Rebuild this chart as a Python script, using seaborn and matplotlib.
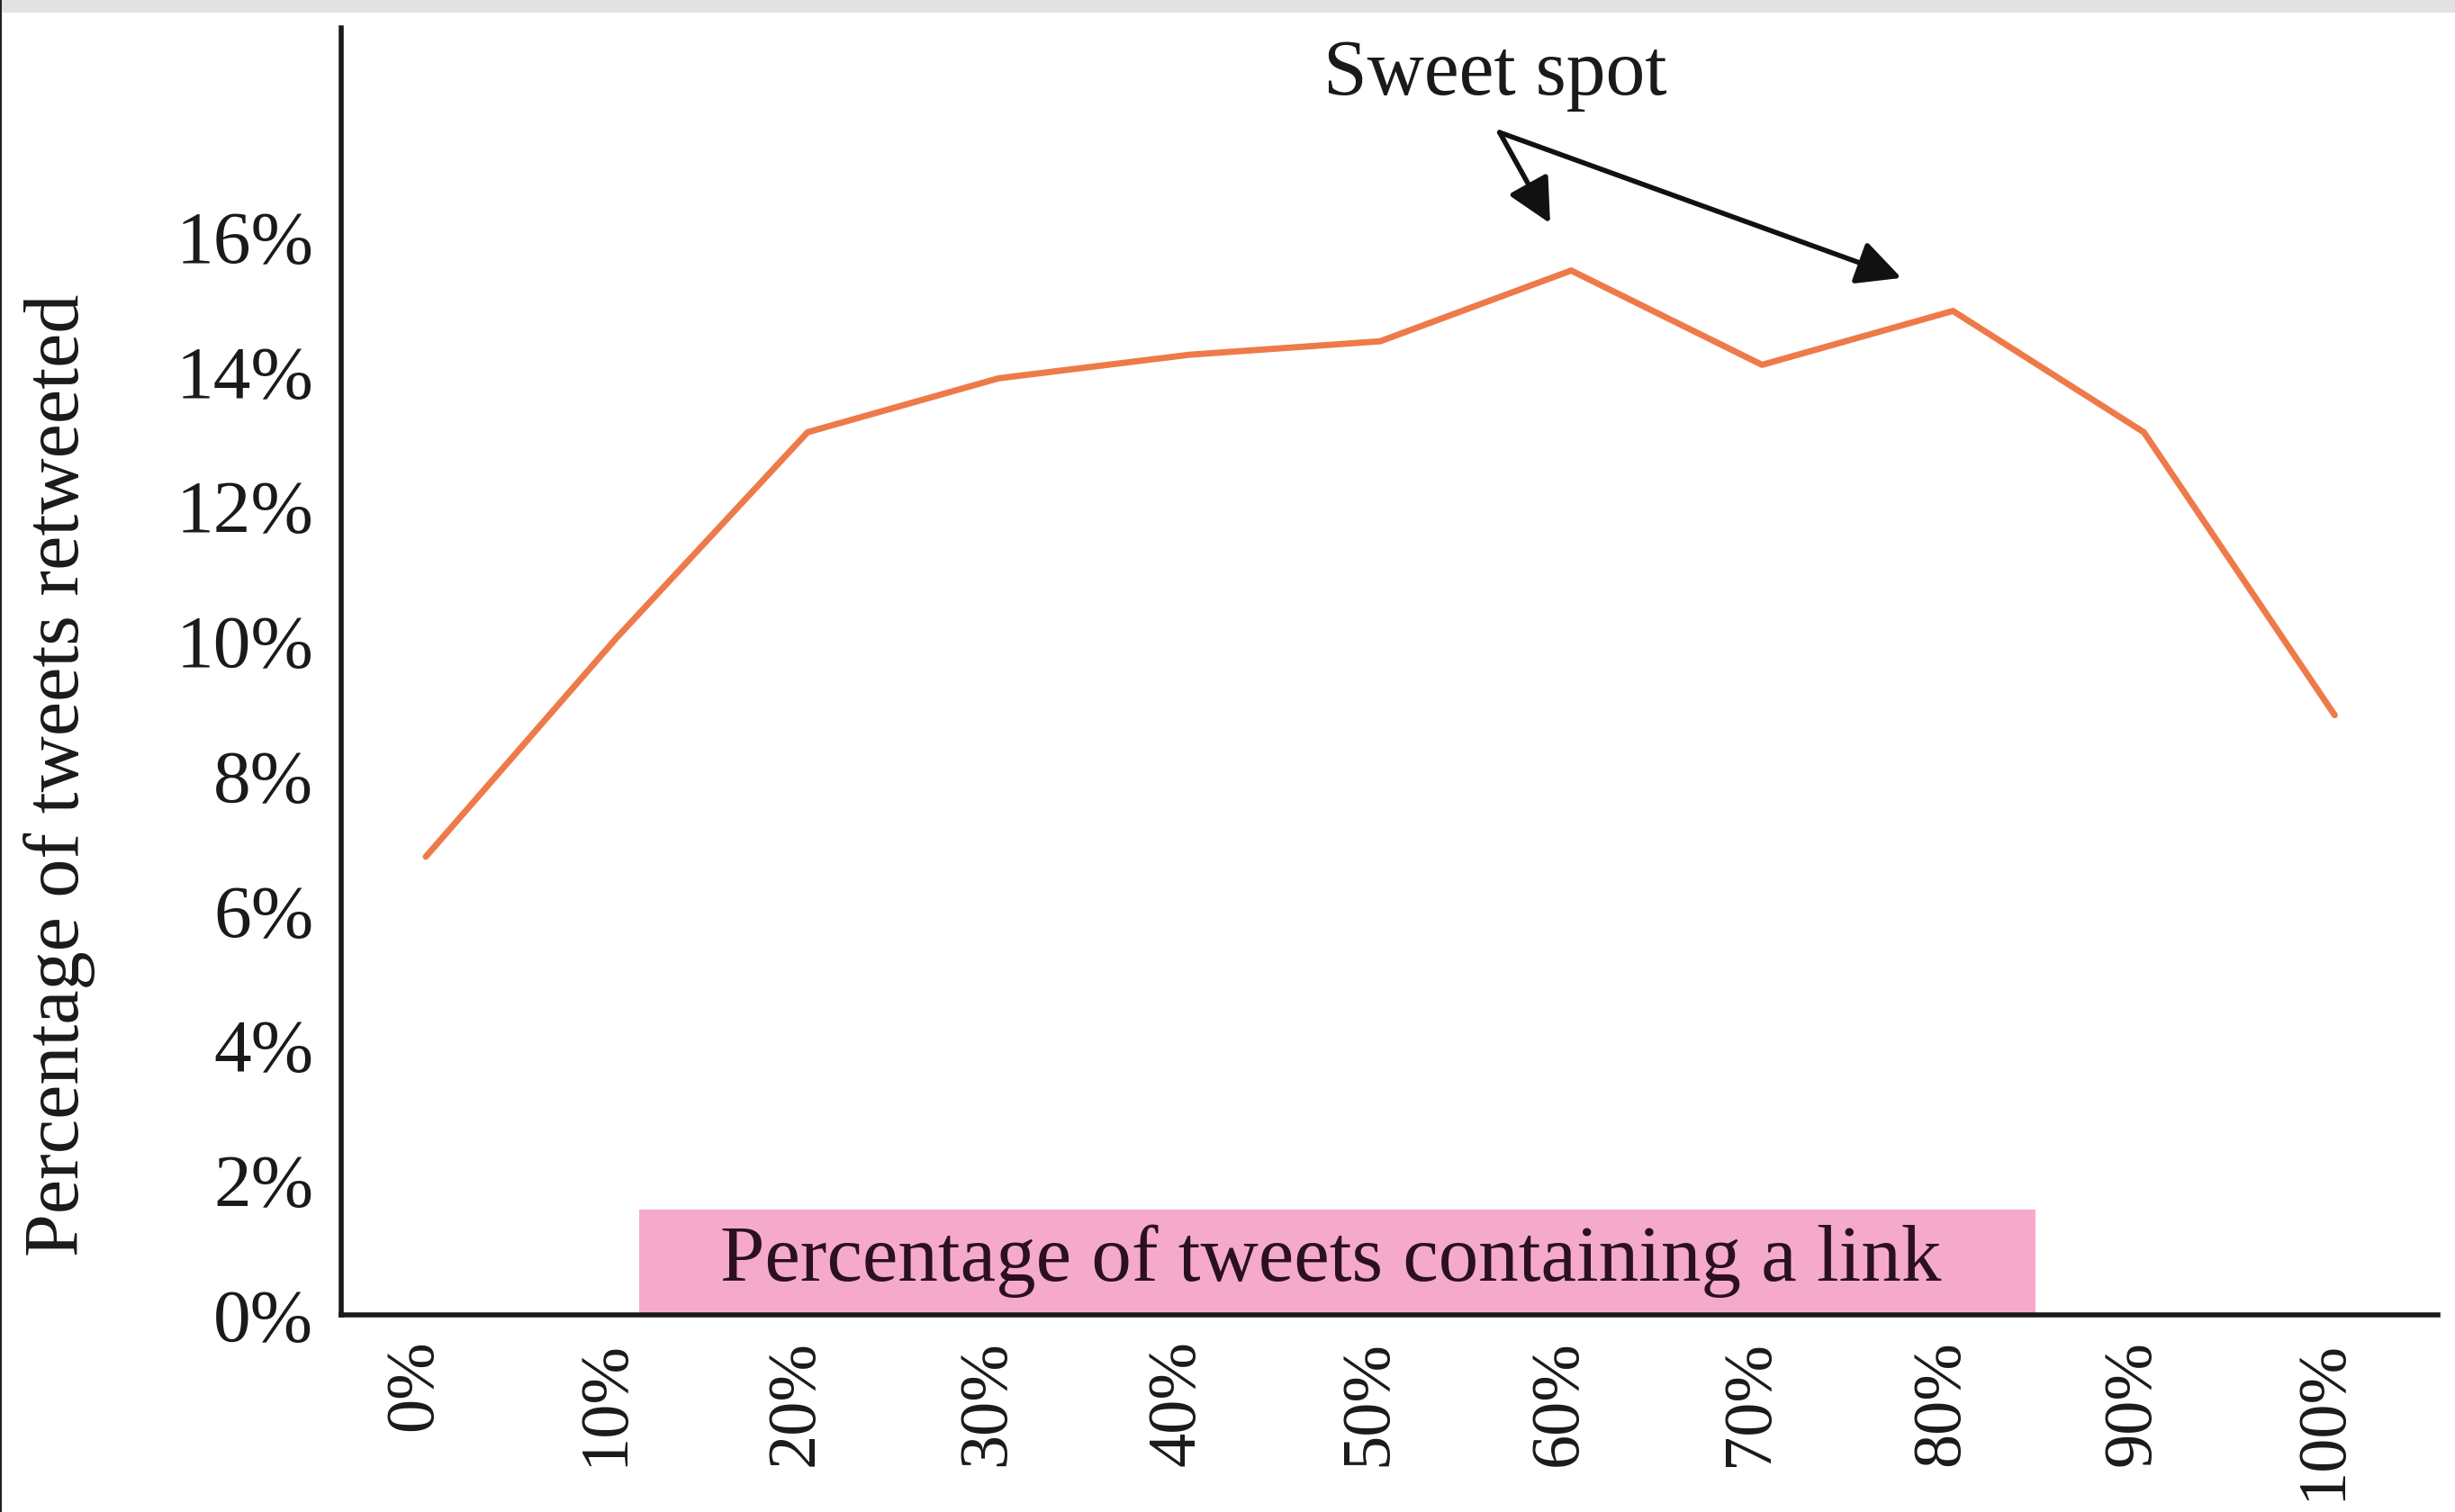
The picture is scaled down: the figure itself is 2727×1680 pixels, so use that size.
import matplotlib
matplotlib.use("Agg")
import matplotlib.pyplot as plt
from matplotlib.patches import Rectangle
import seaborn as sns
import pandas as pd

# ---- data ----
link_pct = [0, 10, 20, 30, 40, 50, 60, 70, 80, 90, 100]
retweet_pct = [6.8, 10.05, 13.1, 13.9, 14.25, 14.45, 15.5, 14.1, 14.9, 13.1, 8.9]
x_tick_labels = ["0%", "10%", "20%", "30%", "40%", "50%", "60%", "70%", "80%", "90%", "100%"]
y_ticks = [0, 2, 4, 6, 8, 10, 12, 14, 16]
y_tick_labels = ["0%", "2%", "4%", "6%", "8%", "10%", "12%", "14%", "16%"]
x_title = "Percentage of tweets containing a link"
y_title = "Percentage of tweets retweeted"
note = "Sweet spot"

df = pd.DataFrame({"link": link_pct, "retweet": retweet_pct})

sns.set_style("white")
plt.rcParams["font.family"] = ["Liberation Serif", "DejaVu Serif"]

fig = plt.figure(figsize=(27.27, 16.8), dpi=100)
ax = fig.add_axes([0.139, 0.1304, 0.854, 0.8511])

sns.lineplot(data=df, x="link", y="retweet", ax=ax, color="#EE7A4A", linewidth=5)

ax.set_xlim(-4.43, 105.4)
ax.set_ylim(0, 19.1)
ax.set_xticks([v - 0.6 for v in link_pct])
ax.set_xticklabels(x_tick_labels, rotation=90, fontsize=55)
ax.set_yticks(y_ticks)
ax.set_yticklabels(y_tick_labels, fontsize=60)
ax.tick_params(axis="both", length=0, colors="#1a1a1a")
ax.tick_params(axis="y", pad=22)
ax.tick_params(axis="x", pad=20)
ax.set_xlabel("")
ax.set_ylabel("")
fig.text(66 / 2727, 1 - 861 / 1680, y_title, rotation=90, ha="center", va="center",
         fontsize=62, color="#1a1a1a")

for s in ["top", "right"]:
    ax.spines[s].set_visible(False)
for s in ["left", "bottom"]:
    ax.spines[s].set_color("#1a1a1a")
    ax.spines[s].set_linewidth(4)

# pink label box inside the plot
ax.add_patch(Rectangle((11.17, 0), 84.3 - 11.17, 1.56, facecolor="#F5AACB",
                       edgecolor="none", zorder=1))
ax.text(47.4, 0.8, x_title, ha="center", va="center", fontsize=64,
        color="#2a1020", zorder=2)

# annotation
ax.text(56.0, 18.4, note, ha="center", va="center", fontsize=63, color="#1a1a1a")
arrow_kw = dict(arrowstyle="-|>,head_length=0.6,head_width=0.3", color="#111111",
                lw=4, mutation_scale=50, shrinkA=0, shrinkB=0)
ax.annotate("", xy=(58.9, 16.2), xytext=(56.25, 17.55), arrowprops=arrow_kw)
ax.annotate("", xy=(77.3, 15.39), xytext=(56.25, 17.55), arrowprops=arrow_kw)

# screenshot frame: grey strip on top and dark left edge
fig.patches.append(Rectangle((0, 1 - 14 / 1680), 1, 14 / 1680, transform=fig.transFigure,
                             facecolor="#e2e2e2", edgecolor="none"))
fig.patches.append(Rectangle((0, 0), 2 / 2727, 1, transform=fig.transFigure,
                             facecolor="#222222", edgecolor="none"))

fig.savefig("out.png", dpi=100)
